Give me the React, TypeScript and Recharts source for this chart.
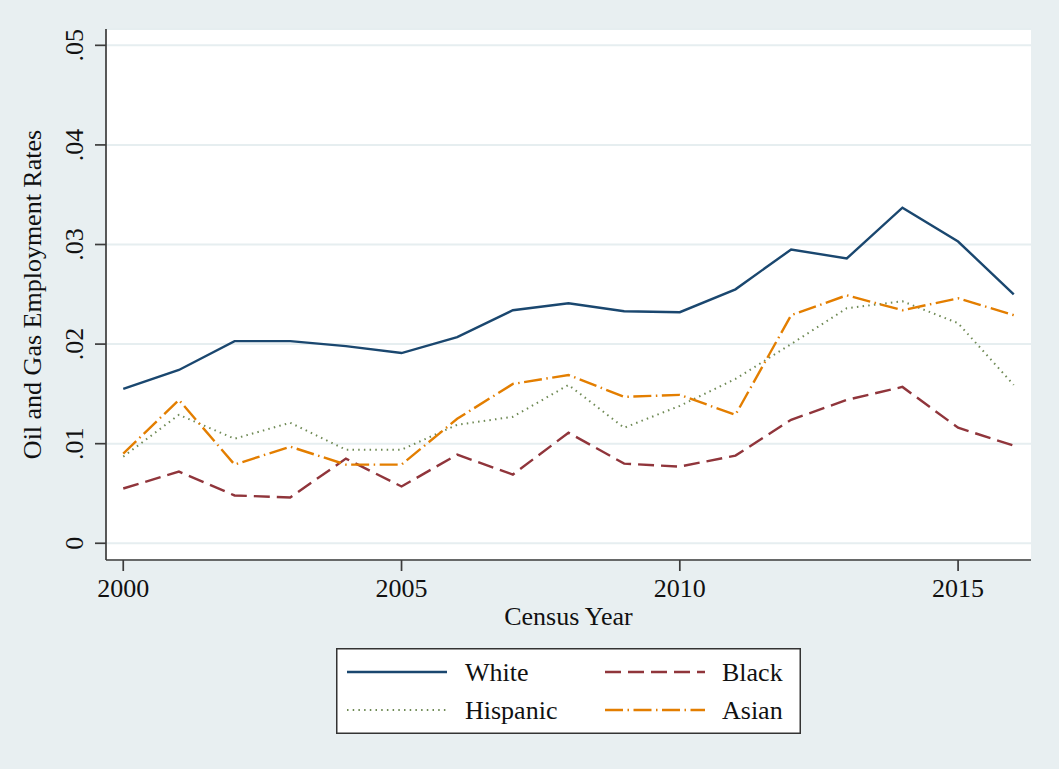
import React from 'react';
import { LineChart, Line, XAxis, YAxis, CartesianGrid, Legend } from 'recharts';

const years = [2000, 2001, 2002, 2003, 2004, 2005, 2006, 2007, 2008, 2009, 2010, 2011, 2012, 2013, 2014, 2015, 2016];
const white = [0.0155, 0.0174, 0.0203, 0.0203, 0.0198, 0.0191, 0.0207, 0.0234, 0.0241, 0.0233, 0.0232, 0.0255, 0.0295, 0.0286, 0.0337, 0.0303, 0.0250];
const black = [0.0055, 0.0072, 0.0048, 0.0046, 0.0085, 0.0057, 0.0089, 0.0069, 0.0111, 0.0080, 0.0077, 0.0088, 0.0124, 0.0144, 0.0157, 0.0116, 0.0098];
const hispanic = [0.0087, 0.0129, 0.0105, 0.0121, 0.0094, 0.0094, 0.0119, 0.0127, 0.0159, 0.0116, 0.0138, 0.0165, 0.0200, 0.0236, 0.0243, 0.0221, 0.0159];
const asian = [0.0090, 0.0144, 0.0079, 0.0097, 0.0079, 0.0079, 0.0125, 0.0160, 0.0169, 0.0147, 0.0149, 0.0129, 0.0229, 0.0249, 0.0234, 0.0246, 0.0229];

const xTicks = [2000, 2005, 2010, 2015];
const yTicks = [0, 0.01, 0.02, 0.03, 0.04, 0.05];
const xTitle = 'Census Year';
const yTitle = 'Oil and Gas Employment Rates';

const data = years.map((y, i) => ({
  year: y,
  White: white[i],
  Black: black[i],
  Hispanic: hispanic[i],
  Asian: asian[i],
}));

const FONT = '"Liberation Serif", "Times New Roman", serif';
const BG = '#e8eff1';

const series = [
  { key: 'White', color: '#1a476f', dash: undefined as string | undefined, width: 2.4 },
  { key: 'Black', color: '#90353b', dash: '16 7', width: 2.4 },
  { key: 'Hispanic', color: '#6f8a55', dash: '1.5 4.2', width: 2 },
  { key: 'Asian', color: '#e37e00', dash: '18 4.5 1.5 4.5', width: 2.4 },
];

const fmtY = (v: number) => (v === 0 ? '0' : v.toFixed(2).replace(/^0/, ''));

const YTick = (props: any) => {
  const { x, y, payload } = props;
  return (
    <text
      x={x}
      y={y}
      transform={`rotate(-90, ${x}, ${y})`}
      textAnchor="middle"
      fontFamily={FONT}
      fontSize={26}
      fill="#111"
    >
      {fmtY(payload.value)}
    </text>
  );
};

const XTick = (props: any) => {
  const { x, y, payload } = props;
  return (
    <text x={x} y={y + 22} textAnchor="middle" fontFamily={FONT} fontSize={26} fill="#111">
      {payload.value}
    </text>
  );
};

const XTitle = (props: any) => {
  const vb = props.viewBox || {};
  return (
    <text x={vb.x + vb.width / 2} y={vb.y + 65} textAnchor="middle" fontFamily={FONT} fontSize={26} fill="#111">
      {xTitle}
    </text>
  );
};

const YTitle = (props: any) => {
  const vb = props.viewBox || {};
  const cx = vb.x - 5;
  const cy = vb.y + vb.height / 2;
  return (
    <text
      x={cx}
      y={cy}
      transform={`rotate(-90, ${cx}, ${cy})`}
      textAnchor="middle"
      fontFamily={FONT}
      fontSize={26}
      fill="#111"
    >
      {yTitle}
    </text>
  );
};

const LegendBox = (props: any) => {
  const payload: any[] = props.payload || [];
  const pos = [
    { lx: 11, tx: 129, ly: 24, ty: 33 },
    { lx: 269, tx: 386, ly: 24, ty: 33 },
    { lx: 11, tx: 129, ly: 62, ty: 71 },
    { lx: 269, tx: 386, ly: 62, ty: 71 },
  ];
  const order = ['White', 'Black', 'Hispanic', 'Asian'];
  return (
    <svg width={465} height={86} style={{ display: 'block' }}>
      <rect x={0.75} y={0.75} width={463.5} height={84.5} fill="#ffffff" stroke="#333" strokeWidth={1.5} />
      {order.map((name, i) => {
        const s = series.find((q) => q.key === name)!;
        const p = payload.find((q) => q.value === name);
        const color = (p && p.color) || s.color;
        const pp = pos[i];
        return (
          <g key={name}>
            <line x1={pp.lx} x2={pp.lx + 100} y1={pp.ly} y2={pp.ly} stroke={color} strokeWidth={s.width} strokeDasharray={s.dash} />
            <text x={pp.tx} y={pp.ty} fontFamily={FONT} fontSize={26} fill="#111">
              {name}
            </text>
          </g>
        );
      })}
    </svg>
  );
};

export default function App() {
  return (
    <div style={{ position: 'absolute', left: 0, top: 0, width: 1059, height: 769, background: BG }}>
      <LineChart width={1059} height={769} data={data} margin={{ top: 29, right: 28, left: 46, bottom: 149 }}>
        <CartesianGrid vertical={false} horizontal={true} fill="#ffffff" stroke="#e6eef0" strokeWidth={2} />
        <XAxis
          dataKey="year"
          type="number"
          domain={[1999.69, 2016.31]}
          ticks={xTicks}
          allowDataOverflow
          height={60}
          tickSize={11}
          tickMargin={4}
          stroke="#3c3c3c"
          strokeWidth={1.7}
          tick={<XTick />}
          label={{ content: (p: any) => <XTitle {...p} /> }}
        />
        <YAxis
          type="number"
          domain={[-0.00168, 0.05164]}
          ticks={yTicks}
          allowDataOverflow
          width={60}
          tickSize={11}
          tickMargin={12}
          stroke="#3c3c3c"
          strokeWidth={1.7}
          tick={<YTick />}
          label={{ content: (p: any) => <YTitle {...p} /> }}
        />
        <Legend
          layout="horizontal"
          verticalAlign="middle"
          align="center"
          content={<LegendBox />}
          wrapperStyle={{ position: 'absolute', left: 336, top: 648, width: 465, height: 86 }}
        />
        {series.map((s) => (
          <Line
            key={s.key}
            type="linear"
            dataKey={s.key}
            name={s.key}
            stroke={s.color}
            strokeWidth={s.width}
            strokeDasharray={s.dash}
            dot={false}
            activeDot={false}
            isAnimationActive={false}
          />
        ))}
      </LineChart>
    </div>
  );
}
